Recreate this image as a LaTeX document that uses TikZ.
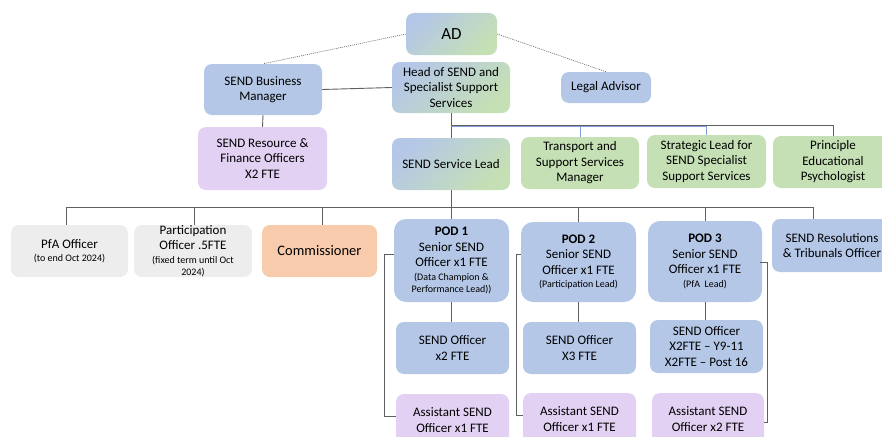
\documentclass[tikz,border=0pt]{standalone}
\usepackage{fontspec}
\setmainfont{Carlito}
\usetikzlibrary{calc}
\definecolor{bx}{HTML}{B4C7E7}
\definecolor{gn}{HTML}{C5E0B4}
\definecolor{lv}{HTML}{E2D1F2}
\definecolor{gy}{HTML}{EDEDED}
\definecolor{orn}{HTML}{F8CBAD}
\definecolor{ln}{HTML}{606060}
\definecolor{bln}{HTML}{7F9FD6}
\newcommand\smtxt[1]{{\fontsize{10}{12}\selectfont #1}}
\tikzset{
  box/.style={rounded corners=8pt, inner sep=0pt, align=center, text=black,
    font=\fontsize{13}{15.5}\selectfont},
  bluebox/.style={box, fill=bx},
  greenbox/.style={box, fill=gn},
  lavbox/.style={box, fill=lv},
  greybox/.style={box, fill=gy},
  orangebox/.style={box, fill=orn},
  gradbox/.style={box, left color=bx, right color=gn, shading angle=45},
  podbox/.style={bluebox, rounded corners=12pt},
  conn/.style={draw=ln, line width=0.9pt},
  bconn/.style={draw=bln, line width=0.9pt},
  dconn/.style={draw=ln, line width=0.6pt, dash pattern=on 1pt off 1pt},
  wh/.style 2 args={minimum width=#1, minimum height=#2}
}
\begin{document}
\begin{tikzpicture}[x=1pt, y=-1pt]
\useasboundingbox (0,0) rectangle (882,436);
\clip (0,0) rectangle (882,436);

% nodes
\node[gradbox, wh={91}{42}, font=\fontsize{17}{20}\selectfont] (ad) at (451.5,34) {AD};
\node[bluebox, wh={118}{51}] (bm) at (263,89.5) {SEND Business\\Manager};
\node[gradbox, wh={118}{51}] (head) at (451,87.5) {Head of SEND and\\Specialist Support\\Services};
\node[bluebox, wh={90}{31}] (legal) at (606,87.5) {Legal Advisor};
\node[lavbox, wh={129}{63}] (res) at (262.5,158.5) {SEND Resource \&\\Finance Officers\\X2 FTE};
\node[gradbox, wh={118}{52}] (lead) at (451,164) {SEND Service Lead};
\node[greenbox, wh={118}{52}] (trans) at (580,163) {Transport and\\Support Services\\Manager};
\node[greenbox, wh={119}{53}] (strat) at (706.5,161.5) {Strategic Lead for\\SEND Specialist\\Support Services};
\node[greenbox, wh={120}{52}] (psych) at (833,162) {Principle\\Educational\\Psychologist};

\node[greybox, wh={117}{52}] (pfa) at (69.5,251) {PfA Officer\\[-2pt]\smtxt{(to end Oct 2024)}};
\node[greybox, wh={118}{52}] (part) at (193,251) {Participation\\Officer .5FTE\\[-2pt]\smtxt{(fixed term until Oct}\\[-3pt]\smtxt{2024)}};
\node[orangebox, wh={115}{52}, font=\fontsize{14.5}{17}\selectfont] (comm) at (319.5,251) {Commissioner};

\node[podbox, wh={115}{83}] (pod1) at (451.5,260.5) {\textbf{POD 1}\\Senior SEND\\Officer x1 FTE\\[-2pt]\smtxt{(Data Champion \&}\\[-3pt]\smtxt{Performance Lead))}};
\node[podbox, wh={115}{80}] (pod2) at (578.5,262) {\textbf{POD 2}\\Senior SEND\\Officer x1 FTE\\[-2pt]\smtxt{(Participation Lead)}};
\node[podbox, wh={114}{81}] (pod3) at (705,261.5) {\textbf{POD 3}\\Senior SEND\\Officer x1 FTE\\[-2pt]\smtxt{(PfA\ \ Lead)}};
\node[bluebox, wh={120}{53}] (resol) at (832,245.5) {SEND Resolutions\\\& Tribunals Officer};

\node[bluebox, wh={113}{52}] (so1) at (452.5,348) {SEND Officer\\x2 FTE};
\node[bluebox, wh={113}{52}] (so2) at (579.5,348) {SEND Officer\\X3 FTE};
\node[bluebox, wh={113}{53}] (so3) at (706.5,346.5) {SEND Officer\\X2FTE – Y9-11\\X2FTE – Post 16};

\node[lavbox, wh={113}{52}] (aso1) at (452.5,420) {Assistant SEND\\Officer x1 FTE};
\node[lavbox, wh={113}{52}] (aso2) at (579.5,419) {Assistant SEND\\Officer x1 FTE};
\node[lavbox, wh={112}{52}] (aso3) at (708,419) {Assistant SEND\\Officer x2 FTE};

% helper coordinates
\coordinate (hb) at (0,125);
\coordinate (hb2) at (0,126.5);
\coordinate (lb) at (0,207);
\coordinate (e1a) at (384,254);
\coordinate (e1b) at (384,416);
\coordinate (e2a) at (516,254);
\coordinate (e2b) at (516,415);
\coordinate (e3a) at (767,262);
\coordinate (e3b) at (767,422);

% connectors
\draw[dconn] (ad.west) -- (bm.north);
\draw[dconn] (ad.east) -- (legal.north);
\draw[conn] (bm.east) -- (head.west);
\draw[conn] (bm.south) -- (res.north);

\draw[conn] (head.south) -- (lead.north);
\draw[conn] (head.south |- hb) -| (psych.north);
\draw[bconn] (head.south |- hb2) -| (trans.north);
\draw[bconn] (head.south |- hb2) -| (strat.north);

\draw[conn] (lead.south) -- (lead.south |- lb);
\draw[conn] ([xshift=-3.5pt]pfa.north) |- ([xshift=-19pt]resol.north |- lb) -- ([xshift=-19pt]resol.north);
\draw[conn] ([xshift=1pt]part.north) -- ([xshift=1pt]part.north |- lb);
\draw[conn] ([xshift=2.5pt]comm.north) -- ([xshift=2.5pt]comm.north |- lb);
\draw[conn] (pod1.north) -- (pod1.north |- lb);
\draw[conn] (pod2.north) -- (pod2.north |- lb);
\draw[conn] (pod3.north) -- (pod3.north |- lb);

\draw[conn] (pod1.south) -- (so1.north -| pod1.south);
\draw[conn] (pod2.south) -- (so2.north -| pod2.south);
\draw[conn] (pod3.south) -- (so3.north -| pod3.south);

\draw[conn] (pod1.west |- e1a) -- (e1a) -- (e1b) -- (aso1.west |- e1b);
\draw[conn] (pod2.west |- e2a) -- (e2a) -- (e2b) -- (aso2.west |- e2b);
\draw[conn] ([xshift=-2pt]pod3.east |- e3a) -- (e3a) -- (e3b) -- (aso3.east |- e3b);
\end{tikzpicture}
\end{document}
